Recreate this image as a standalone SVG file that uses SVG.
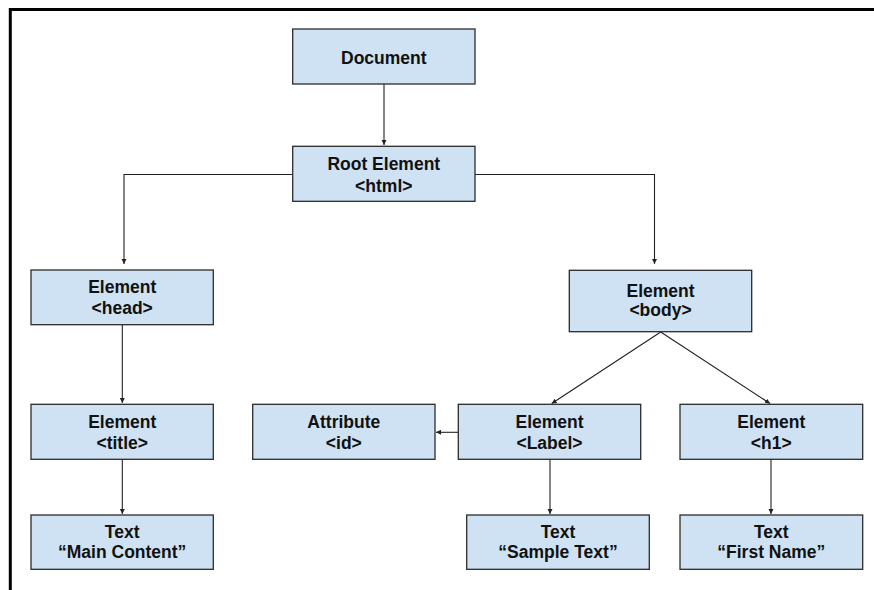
<svg xmlns="http://www.w3.org/2000/svg" width="874" height="590" viewBox="0 0 874 590">
<style>
.box{fill:#cfe2f3;stroke:#2b2b2b;stroke-width:1.3}
.t{font-family:"Liberation Sans",Arial,sans-serif;font-weight:bold;font-size:17.5px;fill:#111;text-anchor:middle}
.c{fill:none;stroke:#222;stroke-width:1.1}
.frame{fill:none;stroke:#000;stroke-width:3}
</style>
<defs>
<marker id="ah" markerUnits="userSpaceOnUse" markerWidth="7" markerHeight="7" refX="5" refY="2.5" orient="auto">
<path d="M0,0 L5,2.5 L0,5 Z" fill="#222"/>
</marker>
</defs>
<rect width="874" height="590" fill="#fff"/>
<path class="frame" d="M10.3,590 V9.5 H874"/>
<g id="connectors">
<path class="c" marker-end="url(#ah)" d="M384,84 V145"/>
<path class="c" marker-end="url(#ah)" d="M293,174.5 H124 V264"/>
<path class="c" marker-end="url(#ah)" d="M475,174.5 H654.5 V264"/>
<path class="c" marker-end="url(#ah)" d="M122.3,324.7 V403"/>
<path class="c" marker-end="url(#ah)" d="M122.3,459.3 V514"/>
<path class="c" marker-end="url(#ah)" d="M660.7,332 L551.7,403.5"/>
<path class="c" marker-end="url(#ah)" d="M660.7,332 L770,403.5"/>
<path class="c" marker-end="url(#ah)" d="M458.3,432.3 H436"/>
<path class="c" marker-end="url(#ah)" d="M550,459.3 V514"/>
<path class="c" marker-end="url(#ah)" d="M771,459.3 V514"/>
</g>
<g id="document">
<rect class="box" x="292.7" y="29" width="182.3" height="55"/>
<text class="t" x="383.8" y="64">Document</text>
</g>
<g id="root">
<rect class="box" x="292.7" y="146.3" width="182.3" height="55"/>
<text class="t" x="383.8" y="170">Root Element</text>
<text class="t" x="383.8" y="192">&lt;html&gt;</text>
</g>
<g id="head">
<rect class="box" x="31" y="270" width="182.3" height="54.7"/>
<text class="t" x="122.2" y="293.3">Element</text>
<text class="t" x="122.2" y="314">&lt;head&gt;</text>
</g>
<g id="body">
<rect class="box" x="569.3" y="270.3" width="182.4" height="61.4"/>
<text class="t" x="660.5" y="296.7">Element</text>
<text class="t" x="660.5" y="316">&lt;body&gt;</text>
</g>
<g id="title">
<rect class="box" x="31" y="404.3" width="182.3" height="55"/>
<text class="t" x="122.2" y="428.3">Element</text>
<text class="t" x="122.2" y="449.3">&lt;title&gt;</text>
</g>
<g id="attribute">
<rect class="box" x="252.7" y="404.3" width="182.3" height="55"/>
<text class="t" x="343.8" y="428.3">Attribute</text>
<text class="t" x="343.8" y="449.3">&lt;id&gt;</text>
</g>
<g id="label">
<rect class="box" x="458.3" y="404.3" width="182.4" height="55"/>
<text class="t" x="549.5" y="428.3">Element</text>
<text class="t" x="549.5" y="449.3">&lt;Label&gt;</text>
</g>
<g id="h1">
<rect class="box" x="680" y="404.3" width="182.7" height="55"/>
<text class="t" x="771.3" y="428.3">Element</text>
<text class="t" x="771.3" y="449.3">&lt;h1&gt;</text>
</g>
<g id="main-content">
<rect class="box" x="31" y="515" width="182.3" height="54.3"/>
<text class="t" x="122.2" y="538.3">Text</text>
<text class="t" x="122.2" y="558.3">“Main Content”</text>
</g>
<g id="sample-text">
<rect class="box" x="466.7" y="515" width="182.6" height="54.3"/>
<text class="t" x="558" y="538.3">Text</text>
<text class="t" x="558" y="558.3">“Sample Text”</text>
</g>
<g id="first-name">
<rect class="box" x="680" y="515" width="182.7" height="54.3"/>
<text class="t" x="771.3" y="538.3">Text</text>
<text class="t" x="771.3" y="558.3">“First Name”</text>
</g>
</svg>
